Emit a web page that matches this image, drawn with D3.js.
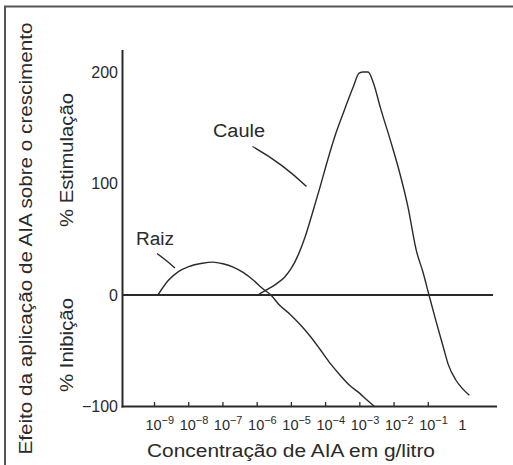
<!DOCTYPE html>
<html>
<head>
<meta charset="utf-8">
<script src="https://cdn.jsdelivr.net/npm/d3@7"></script>
<style>
  html, body { margin: 0; padding: 0; background: #fff; }
  svg { display: block; }
  text { font-family: "Liberation Sans", Arial, sans-serif; fill: #2a2a2a; }
</style>
</head>
<body>
<svg id="chart" width="513" height="465"></svg>
<script>
// ---- data (x as log10 of concentration in g/litro, y as % effect) ----
const raizExp = [-8.9, -8.6, -8.3, -8.0, -7.6, -7.3, -7.0, -6.7, -6.4, -6.1, -5.85, -5.6, -5.35, -5.05, -4.76, -4.45, -4.18, -3.9, -3.6, -3.3, -3.01, -2.8, -2.57];
const raizVal = [0, 13, 21, 25.5, 28.5, 29.5, 28, 25, 20, 13, 6, 0, -9, -17, -26, -37, -48, -60, -71, -81, -88, -94, -100];

const cauleExp = [-5.98, -5.7, -5.44, -5.2, -5.0, -4.8, -4.6, -4.4, -4.18, -3.95, -3.7, -3.45, -3.2, -3.02, -2.9, -2.76, -2.6, -2.4, -2.1, -1.83, -1.6, -1.35, -1.15, -0.98, -0.76, -0.55, -0.42, -0.2, 0.0, 0.2];
const cauleVal = [0, 5, 10, 16, 24, 36, 52, 72, 95, 120, 145, 166, 186, 199, 200, 200, 190, 168, 138, 109, 80, 40, 20, 0, -25, -48, -62, -76, -84, -90];

const xTickExp = [-9, -8, -7, -6, -5, -4, -3, -2, -1];
const xLabelExp = [-9, -8, -7, -6, -5, -4, -3, -2, -1, 0];
const yTicks = [200, 100, 0, -100];

const xTitle = "Concentração de AIA em g/litro";
const yTitle = "Efeito da aplicação de AIA sobre o crescimento";
const yUpper = "% Estimulação";
const yLower = "% Inibição";

// ---- layout ----
const svg = d3.select("#chart");
const x = d3.scaleLog().domain([1e-9, 1]).range([154.5, 462.5]);
const y = d3.scaleLinear().domain([-100, 200]).range([406.5, 72]);
const axisLeft = 122.5;
const ink = "#2a2a2a";

// frame
svg.append("rect")
  .attr("x", 5).attr("y", 6.5).attr("width", 520).attr("height", 470)
  .attr("fill", "none").attr("stroke", "#555").attr("stroke-width", 2);

// y axis line
svg.append("line")
  .attr("x1", axisLeft).attr("x2", axisLeft)
  .attr("y1", 50).attr("y2", y(-100) + 1)
  .attr("stroke", ink).attr("stroke-width", 2);

// x axis line
svg.append("line")
  .attr("x1", axisLeft - 1).attr("x2", 497)
  .attr("y1", y(-100)).attr("y2", y(-100))
  .attr("stroke", ink).attr("stroke-width", 2);

// zero line
svg.append("line")
  .attr("x1", axisLeft).attr("x2", 493)
  .attr("y1", y(0)).attr("y2", y(0))
  .attr("stroke", ink).attr("stroke-width", 1.8);

// x ticks (inward)
svg.selectAll(".xtick").data(xTickExp).enter().append("line")
  .attr("x1", d => x(Math.pow(10, d))).attr("x2", d => x(Math.pow(10, d)))
  .attr("y1", y(-100)).attr("y2", y(-100) - 4.5)
  .attr("stroke", ink).attr("stroke-width", 1.3);

// x tick labels: base "10" and exponent as separate texts
const baseG = svg.append("g");
xLabelExp.forEach(d => {
  const px = x(Math.pow(10, d));
  if (d === 0) {
    baseG.append("text").attr("x", px).attr("y", 430)
      .attr("text-anchor", "middle").attr("font-size", 15).text("1");
  } else {
    baseG.append("text").attr("x", px - 1).attr("y", 430)
      .attr("text-anchor", "middle").attr("font-size", 14.5).text("10");
    baseG.append("text").attr("x", px + 7).attr("y", 424)
      .attr("font-size", 11).text("\u2212" + Math.abs(d));
  }
});

// y tick labels
svg.selectAll(".ylab").data(yTicks).enter().append("text")
  .attr("x", 118).attr("y", d => y(d) + 5.5)
  .attr("text-anchor", "end").attr("font-size", 16)
  .text(d => d < 0 ? "\u2212" + Math.abs(d) : d);

// titles
svg.append("text")
  .attr("x", 291).attr("y", 457)
  .attr("text-anchor", "middle").attr("font-size", 18)
  .attr("textLength", 288).attr("lengthAdjust", "spacingAndGlyphs")
  .text(xTitle);

svg.append("text")
  .attr("transform", "translate(31.5,238.5) rotate(-90)")
  .attr("text-anchor", "middle").attr("font-size", 18)
  .attr("textLength", 432).attr("lengthAdjust", "spacingAndGlyphs")
  .text(yTitle);

svg.append("text")
  .attr("transform", "translate(72.5,160) rotate(-90)")
  .attr("text-anchor", "middle").attr("font-size", 17.5)
  .attr("textLength", 134).attr("lengthAdjust", "spacingAndGlyphs")
  .text(yUpper);

svg.append("text")
  .attr("transform", "translate(72.5,345) rotate(-90)")
  .attr("text-anchor", "middle").attr("font-size", 17.5)
  .attr("textLength", 94).attr("lengthAdjust", "spacingAndGlyphs")
  .text(yLower);

// curves
const line = d3.line()
  .x(d => x(Math.pow(10, d[0])))
  .y(d => y(d[1]))
  .curve(d3.curveMonotoneX);

svg.append("path")
  .datum(raizExp.map((e, i) => [e, raizVal[i]]))
  .attr("d", line)
  .attr("fill", "none").attr("stroke", ink).attr("stroke-width", 1.4);

svg.append("path")
  .datum(cauleExp.map((e, i) => [e, cauleVal[i]]))
  .attr("d", line)
  .attr("fill", "none").attr("stroke", ink).attr("stroke-width", 1.4);

// labels + leaders
svg.append("text").attr("x", 239).attr("y", 137)
  .attr("text-anchor", "middle").attr("font-size", 18)
  .attr("textLength", 52).attr("lengthAdjust", "spacingAndGlyphs").text("Caule");
svg.append("path")
  .attr("d", "M252.5,146.5 Q282,163 306.5,186.5")
  .attr("fill", "none").attr("stroke", ink).attr("stroke-width", 1.4);

svg.append("text").attr("x", 155).attr("y", 245)
  .attr("text-anchor", "middle").attr("font-size", 18)
  .attr("textLength", 38).attr("lengthAdjust", "spacingAndGlyphs").text("Raiz");
svg.append("path")
  .attr("d", "M157,253.5 Q166,260 175,268")
  .attr("fill", "none").attr("stroke", ink).attr("stroke-width", 1.4);
</script>
</body>
</html>
